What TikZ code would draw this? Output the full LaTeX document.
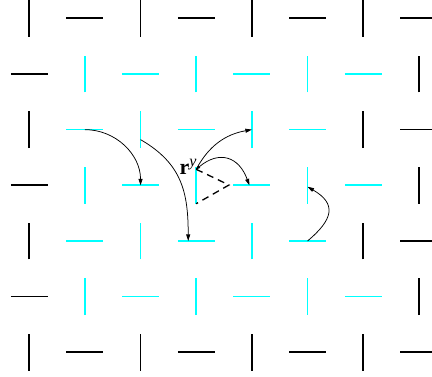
\documentclass[tikz,border=0pt]{standalone}
\usepackage{fontspec}
\setmainfont{Liberation Serif}
\usetikzlibrary{arrows.meta}
\definecolor{segcyan}{RGB}{0,255,255}
\tikzset{
  seg/.style={line width=1.7pt},
  conn/.style={line width=0.75pt, -{Triangle[length=6.5pt,width=4pt]}},
  dashline/.style={line width=1.3pt, dash pattern=on 7pt off 5pt},
}
\begin{document}
\begin{tikzpicture}[x=1pt,y=1pt]
\useasboundingbox (0,0) rectangle (432,377);
% grid coordinates
\foreach \i in {0,...,7} {
  \foreach \j in {0,...,6} {
    \pgfmathsetmacro{\gx}{29.2+55.67*\i}
    \pgfmathsetmacro{\gy}{358.7-55.67*\j}
    \coordinate (s-\i-\j) at (\gx,\gy);
  }
}
% segments
\foreach \i in {0,...,7} {
  \foreach \j in {0,...,6} {
    \pgfmathtruncatemacro{\v}{mod(\i+\j,2)==0}
    \pgfmathtruncatemacro{\c}{(\j>0)&&(\j<6)&&(\i>0)&&((\i<6)||((\i==6)&&(mod(\j,2)==1)))}
    \ifnum\c=1 \def\col{segcyan}\else\def\col{black}\fi
    \ifnum\v=1
      \draw[seg,draw=\col] ([yshift=-18.4pt]s-\i-\j) -- ([yshift=18.4pt]s-\i-\j);
    \else
      \draw[seg,draw=\col] ([xshift=-18.4pt]s-\i-\j) -- ([xshift=18.4pt]s-\i-\j);
    \fi
  }
}
% special points
\coordinate (r) at ([yshift=16pt]s-3-3);
\coordinate (q) at (229,192);
\coordinate (rb) at ([yshift=-18.4pt]s-3-3);
\coordinate (a2s) at ([yshift=-10pt]s-2-2);
\coordinate (a2e) at ([xshift=-8pt]s-3-4);
\coordinate (a4e) at ([xshift=-2.5pt]s-4-3);
\coordinate (a5e) at ([yshift=-1.5pt]s-5-3);
% dashed triangle
\draw[dashline] (r) -- (q) -- (rb);
% label
\node[anchor=base west, inner sep=0pt, font=\fontsize{22}{24}\selectfont] (lab) at (179.5,202.5) {\textbf{r}\raisebox{8pt}{\fontsize{16}{16}\selectfont\itshape y}};
% connectors
\draw[conn] (s-1-2) to[out=0,in=90] (s-2-3);
\draw[conn] (a2s) to[out=-30,in=90,looseness=1.1] (a2e);
\draw[conn] (r) to[out=62,in=190] (s-4-2);
\draw[conn, {Triangle[length=4pt,width=3pt]}-{Triangle[length=6.5pt,width=4pt]}] (r) to[out=40,in=110,looseness=1.4] (a4e);
\draw[conn] (s-5-4) to[out=40,in=-30,looseness=1.6] (a5e);
\end{tikzpicture}
\end{document}
